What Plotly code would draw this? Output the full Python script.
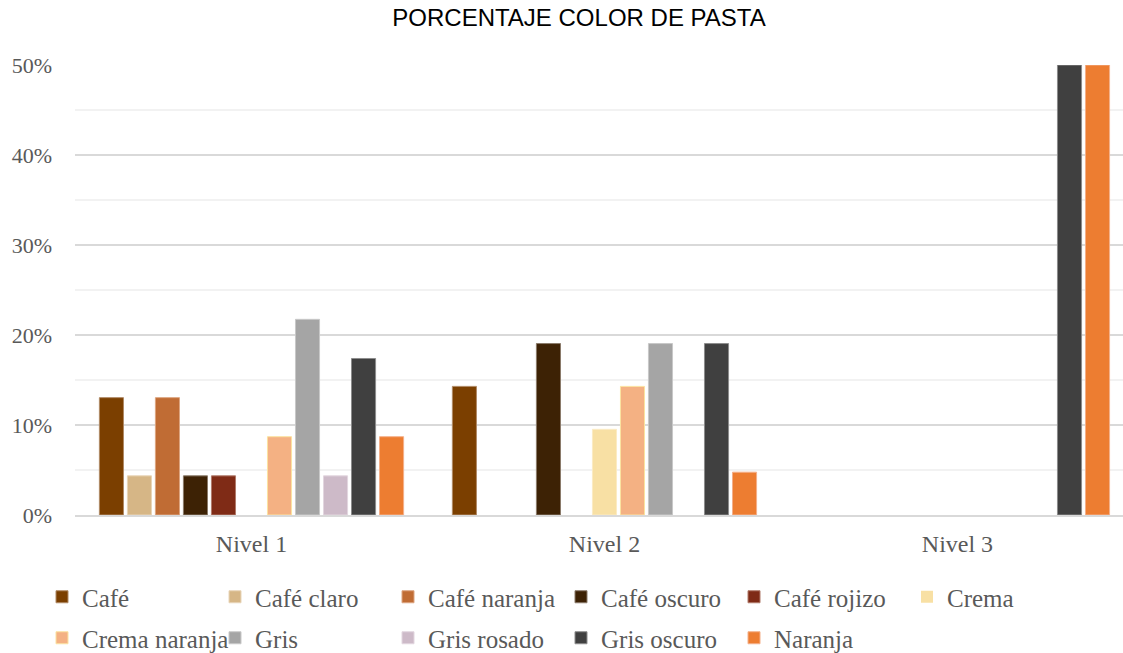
import plotly.graph_objects as go

categories = ["Nivel 1", "Nivel 2", "Nivel 3"]
series_names = ["Café", "Café claro", "Café naranja", "Café oscuro", "Café rojizo", "Crema",
                "Crema naranja", "Gris", "Gris rosado", "Gris oscuro", "Naranja"]
cafe = [0.1304, 0.1429, 0.0]
cafe_claro = [0.0435, 0.0, 0.0]
cafe_naranja = [0.1304, 0.0, 0.0]
cafe_oscuro = [0.0435, 0.1905, 0.0]
cafe_rojizo = [0.0435, 0.0, 0.0]
crema = [0.0, 0.0952, 0.0]
crema_naranja = [0.0870, 0.1429, 0.0]
gris = [0.2174, 0.1905, 0.0]
gris_rosado = [0.0435, 0.0, 0.0]
gris_oscuro = [0.1739, 0.1905, 0.5]
naranja = [0.0870, 0.0476, 0.5]
values = [cafe, cafe_claro, cafe_naranja, cafe_oscuro, cafe_rojizo, crema,
          crema_naranja, gris, gris_rosado, gris_oscuro, naranja]

colors = ["#7B3F00", "#D6B686", "#C06C34", "#3D2205", "#7F2B16", "#F8E0A4",
          "#F4B183", "#A5A5A5", "#CDBAC8", "#404040", "#ED7D31"]
line_colors = ["#B08A66", "#E8D5B8", "#DDA580", "#8A7A6A", "#B07A6A", "#FBEBC4",
               "#FBE3A0", "#C8C8C8", "#E2D6DF", "#8C8C8C", "#F4B08A"]

fig = go.Figure()
for i, (name, vals) in enumerate(zip(series_names, values)):
    fig.add_trace(go.Bar(
        x=categories, y=vals, name=name,
        marker=dict(color=colors[i],
                    line=dict(color=line_colors[i], width=[1 if v > 0 else 0 for v in vals])),
        legend="legend" if i < 6 else "legend2",
    ))

serif = "Liberation Serif, Times New Roman, serif"
legend_common = dict(orientation="h", xanchor="left", yanchor="middle",
                     font=dict(family=serif, size=25, color="#595959"),
                     entrywidth=128, itemwidth=30, bgcolor="rgba(0,0,0,0)",
                     traceorder="normal")

plot_h = 450
plot_w = 1048
fig.update_layout(
    width=1123, height=653,
    paper_bgcolor="white", plot_bgcolor="white",
    margin=dict(l=75, r=0, t=65, b=138, autoexpand=False),
    title=dict(text="PORCENTAJE COLOR DE PASTA", x=579/1123, xanchor="center",
               y=1 - 18/653, yanchor="middle",
               font=dict(family="Liberation Sans, Arial, sans-serif", size=24, color="#000000")),
    barmode="group", bargap=0.127, bargroupgap=0.14,
    showlegend=True,
    legend=dict(x=(42 - 75)/plot_w, y=-(597 - 515)/plot_h, **legend_common),
    legend2=dict(x=(42 - 75)/plot_w, y=-(638 - 515)/plot_h, **legend_common),
    xaxis=dict(range=[-0.5, 2.469], showgrid=False, showline=True, linecolor="#D9D9D9",
               linewidth=1.5, ticks="", tickfont=dict(family=serif, size=24, color="#595959"),
               ticklabelstandoff=6, zeroline=False),
    yaxis=dict(range=[0, 0.5], dtick=0.1, tickformat=".0%", showgrid=True,
               gridcolor="#D9D9D9", gridwidth=1.5, zeroline=False, showline=False,
               tickfont=dict(family=serif, size=22, color="#595959"),
               ticklabelstandoff=22,
               minor=dict(dtick=0.05, showgrid=True, gridcolor="#F2F2F2", gridwidth=1.5)),
)

fig.write_html("out.html", config={"displayModeBar": False},
               post_script="document.body.style.margin='0';")
